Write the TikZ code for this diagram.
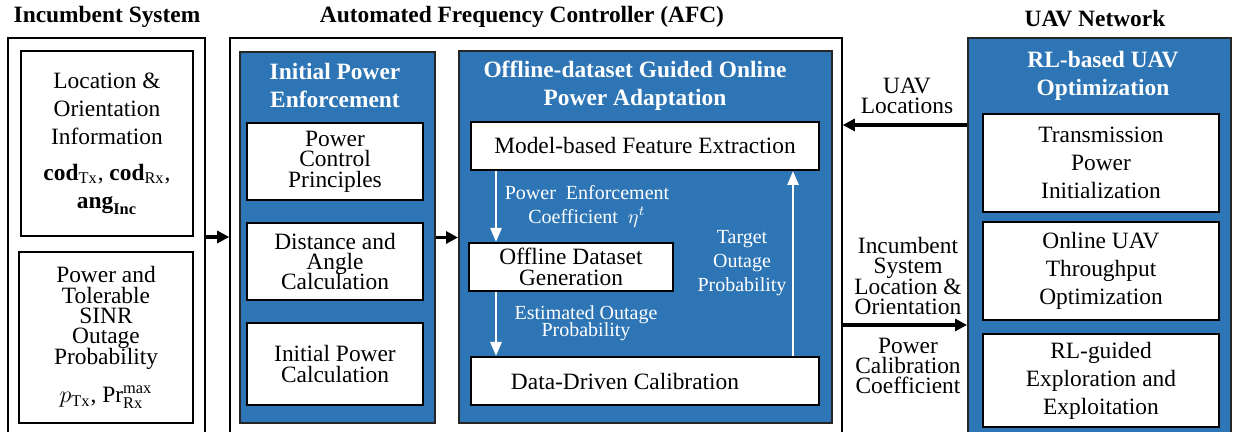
\documentclass[tikz,border=0pt]{standalone}
\usepackage{fontspec}
\setmainfont{Liberation Serif}
\usetikzlibrary{arrows.meta, calc}
\definecolor{afcblue}{HTML}{2E75B6}

\begin{document}
\begin{tikzpicture}[x=0.5pt, y=-0.5pt,
    every node/.style={align=center, font={\fontsize{11.7}{14}\selectfont}},
    outerbox/.style={draw=black, line width=0.8pt, inner sep=0pt},
    bluebox/.style={draw=black!85, line width=1pt, fill=afcblue, inner sep=0pt},
    whitebox/.style={draw=black, line width=1pt, fill=white, inner sep=0pt},
    tight/.style={font={\fontsize{11.7}{10.2}\selectfont\lineskiplimit=-20pt}},
    heading/.style={font={\fontsize{11.7}{14}\selectfont\bfseries}},
    bluehead/.style={heading, text=white},
    wlabel/.style={text=white, font={\fontsize{10}{12}\selectfont\lineskiplimit=-20pt}},
    bigarrow/.style={draw=black, line width=1.8pt, -{Triangle[length=6pt,width=6pt]}},
    whitearrow/.style={draw=white, line width=1.3pt, -{Triangle[length=7pt,width=5.5pt]}}]

      \useasboundingbox (0,0) rectangle (1233,432);
      \clip (0,0) rectangle (1233,432);

      % headings
      \node[heading] (inctitle) at (107,17) {Incumbent System};
      \node[heading] (afctitle) at (522,17) {Automated Frequency Controller (AFC)};
      \node[heading] (uavtitle) at (1095,19) {UAV Network};

      % incumbent system
      \node[outerbox, minimum width=98.5pt, minimum height=199pt] (inc) at (106.5,237) {};
      \node[whitebox, minimum width=86pt, minimum height=92.5pt] (locinfo) at (107,143.5)
        {Location \&\\Orientation\\Information\\[4pt]
         $\mathbf{cod}_{\mathrm{Tx}}$, $\mathbf{cod}_{\mathrm{Rx}}$,\\
         $\mathbf{ang}_{\mathbf{Inc}}$};
      \node[whitebox, tight, minimum width=87pt, minimum height=85.5pt] (pwrinfo) at (106,337.5)
        {Power and\\Tolerable\\SINR\\Outage\\Probability\\[9pt]
         $p_{\mathrm{Tx}}$, $\mathrm{Pr}_{\mathrm{Rx}}^{\mathrm{max}}$};

      % AFC
      \node[outerbox, minimum width=306pt, minimum height=199pt] (afc) at (536,237) {};

      \node[bluebox, minimum width=97.5pt, minimum height=185.5pt] (ipe) at (337.5,237.5) {};
      \node[bluehead] (ipetitle) at (335,86) {Initial Power\\Enforcement};
      \node[whitebox, tight, minimum width=88pt, minimum height=38.5pt] (pcp) at (335,161.5) {Power\\Control\\Principles};
      \node[whitebox, tight, minimum width=88pt, minimum height=38.5pt] (dac) at (335,261.5) {Distance and\\Angle\\Calculation};
      \node[whitebox, tight, minimum width=88pt, minimum height=41pt] (ipc) at (335,364) {Initial Power\\Calculation};

      \node[bluebox, minimum width=186.5pt, minimum height=186pt] (opa) at (645.5,237) {};
      \node[bluehead] (opatitle) at (635,86) {Offline-dataset Guided Online\\Power Adaptation};
      \node[whitebox, minimum width=174pt, minimum height=24pt] (mfe) at (645,146) {Model-based Feature Extraction};
      \node[whitebox, tight, minimum width=102pt, minimum height=24pt] (odg) at (571,267) {Offline Dataset\\Generation};
      \node[whitebox, minimum width=174pt, minimum height=24pt] (ddc) at (645,381) {Data-Driven Calibration\hspace*{20pt}};

      \coordinate (downx) at ($(odg.north west)+(28,0)$);
      \coordinate (upx) at ($(ddc.north east)+(-27,0)$);
      \draw[whitearrow] (downx |- mfe.south) -- (downx);
      \draw[whitearrow] (odg.south -| downx) -- (ddc.north -| downx);
      \draw[whitearrow] (upx) -- (upx |- mfe.south);

      \node[wlabel] (pecoef) at (587,206) {Power~~Enforcement\\Coefficient~~$\eta^t$};
      \node[wlabel, font={\fontsize{10}{8.5}\selectfont\lineskiplimit=-20pt}] (estout) at (586,323) {Estimated Outage\\Probability};
      \node[wlabel] (tgtout) at (742,263) {Target\\Outage\\Probability};

      % UAV network
      \node[bluebox, minimum width=131.5pt, minimum height=201pt] (uav) at (1099.5,239) {};
      \node[bluehead] (uavhead) at (1103,76) {RL-based UAV\\Optimization};
      \node[whitebox, minimum width=118pt, minimum height=49pt] (tpi) at (1101,163) {Transmission\\Power\\Initialization};
      \node[whitebox, minimum width=118pt, minimum height=49pt] (ouo) at (1101,271) {Online UAV\\Throughput\\Optimization};
      \node[whitebox, minimum width=118pt, minimum height=46.5pt] (rle) at (1101,380.5) {RL-guided\\Exploration and\\Exploitation};

      % connectors
      \draw[bigarrow] (inc.east) -- (afc.west);
      \draw[bigarrow] (ipe.east) -- (ipe.east -| opa.west);

      \coordinate (uavloc) at ($(uav.north west)+(0,88)$);
      \coordinate (incloc) at ($(uav.north west)+(0,288)$);
      \draw[bigarrow] (uavloc) -- (uavloc -| afc.east);
      \draw[bigarrow] (incloc -| afc.east) -- (incloc);

      \node[tight] (uavlocs) at (907,96) {UAV\\Locations};
      \node[tight] (incsys) at (908,276) {Incumbent\\System\\Location \&\\Orientation};
      \node[tight] (pcc) at (908,366) {Power\\Calibration\\Coefficient};

    \end{tikzpicture}
\end{document}
